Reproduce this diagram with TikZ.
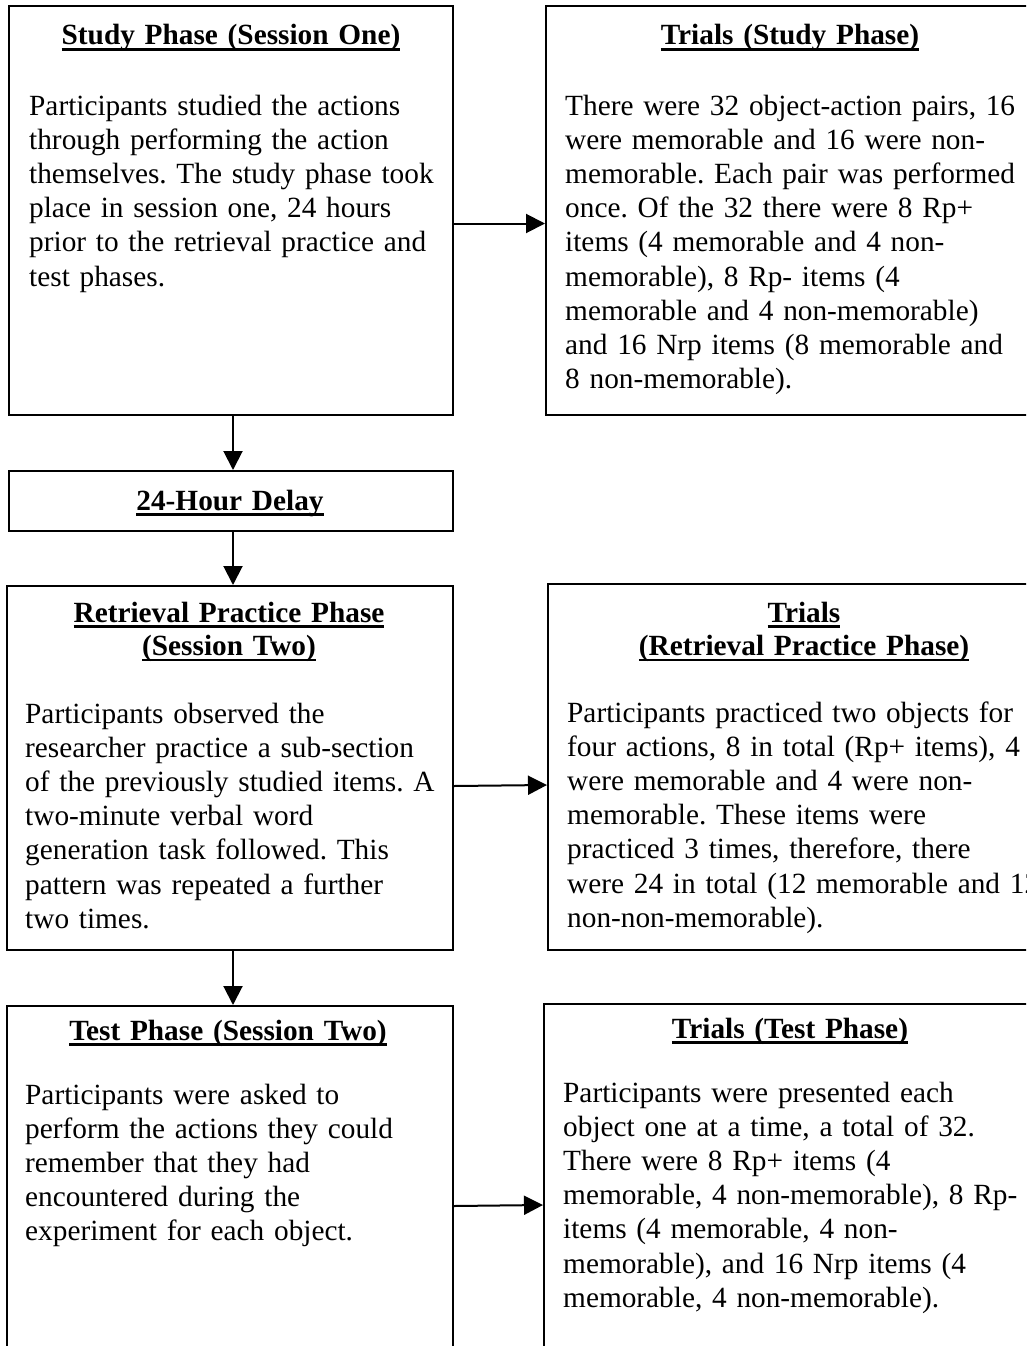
\documentclass[tikz,border=0pt]{standalone}
\usepackage{fontspec}
\setmainfont{Liberation Serif}
\usetikzlibrary{arrows.meta}
\frenchspacing
\newsavebox\headbox
\newcommand{\headul}[1]{\leavevmode\sbox\headbox{#1}\rlap{\rule[-5.7pt]{\wd\headbox}{2.4pt}}\usebox\headbox}
\tikzset{
  box/.style={draw, line width=2pt, anchor=north west, inner sep=0pt},
  head/.style={anchor=base, text width=460pt, align=center, inner sep=0pt,
    font=\fontsize{29.3}{33.5}\selectfont\bfseries},
  body/.style={anchor=base west, text width=520pt, align=left, inner sep=0pt,
    font=\fontsize{29.3}{34.2}\selectfont},
  flow/.style={line width=2pt, -{Triangle[length=19pt,width=19pt]}}
}
\begin{document}
\begin{tikzpicture}[x=1pt, y=-1pt]
  \useasboundingbox (0,0) rectangle (1026,1346);
  \clip (0,0) rectangle (1026,1346);

  \node[box, minimum width=444pt, minimum height=409pt] (study) at (8,5) {};
  \node[box, minimum width=500pt, minimum height=409pt] (studytrials) at (545,5) {};
  \node[box, minimum width=444pt, minimum height=60pt] (delay) at (8,470) {};
  \node[box, minimum width=446pt, minimum height=364pt] (retrieval) at (6,585) {};
  \node[box, minimum width=500pt, minimum height=366pt] (retrievaltrials) at (547,583) {};
  \node[box, minimum width=446pt, minimum height=360pt] (test) at (6,1005) {};
  \node[box, minimum width=500pt, minimum height=362pt] (testtrials) at (543,1003) {};

  \node[head] (studyhead) at (231,45) {\headul{Study Phase (Session One)}};
  \node[body] (studytext) at (29,115) {Participants studied the actions\\
    through performing the action\\
    themselves. The study phase took\\
    place in session one, 24 hours\\
    prior to the retrieval practice and\\
    test phases.};

  \node[head] (studytrialshead) at (790,45) {\headul{Trials (Study Phase)}};
  \node[body] (studytrialstext) at (565,115) {There were 32 object-action pairs, 16\\
    were memorable and 16 were non-\\
    memorable. Each pair was performed\\
    once. Of the 32 there were 8 Rp+\\
    items (4 memorable and 4 non-\\
    memorable), 8 Rp- items (4\\
    memorable and 4 non-memorable)\\
    and 16 Nrp items (8 memorable and\\
    8 non-memorable).};

  \node[head] (delayhead) at (230,510) {\headul{24-Hour Delay}};

  \node[head] (retrievalhead) at (229,622) {\headul{Retrieval Practice Phase}\\
    \headul{(Session Two)}};
  \node[body] (retrievaltext) at (25,723) {Participants observed the\\
    researcher practice a sub-section\\
    of the previously studied items. A\\
    two-minute verbal word\\
    generation task followed. This\\
    pattern was repeated a further\\
    two times.};

  \node[head] (retrievaltrialshead) at (804,622) {\headul{Trials}\\
    \headul{(Retrieval Practice Phase)}};
  \node[body] (retrievaltrialstext) at (567,722) {Participants practiced two objects for\\
    four actions, 8 in total (Rp+ items), 4\\
    were memorable and 4 were non-\\
    memorable. These items were\\
    practiced 3 times, therefore, there\\
    were 24 in total (12 memorable and 12\\
    non-non-memorable).};

  \node[head] (testhead) at (228,1040) {\headul{Test Phase (Session Two)}};
  \node[body] (testtext) at (25,1104) {Participants were asked to\\
    perform the actions they could\\
    remember that they had\\
    encountered during the\\
    experiment for each object.};

  \node[head] (testtrialshead) at (790,1038) {\headul{Trials (Test Phase)}};
  \node[body] (testtrialstext) at (563,1102) {Participants were presented each\\
    object one at a time, a total of 32.\\
    There were 8 Rp+ items (4\\
    memorable, 4 non-memorable), 8 Rp-\\
    items (4 memorable, 4 non-\\
    memorable), and 16 Nrp items (4\\
    memorable, 4 non-memorable).};

  \draw[flow] ([yshift=-13pt]study.east) -- ([yshift=-13pt]studytrials.west);
  \draw[flow] ([yshift=-18pt]retrieval.east) -- ([yshift=-18pt]retrievaltrials.west);
  \draw[flow] ([yshift=-20pt]test.east) -- ([yshift=-20pt]testtrials.west);
  \draw[flow] ([xshift=2pt]study.south) -- ([xshift=2pt]study.south |- delay.north);
  \draw[flow] ([xshift=2pt]delay.south) -- ([xshift=2pt]delay.south |- retrieval.north);
  \draw[flow] ([xshift=2pt]delay.south |- retrieval.south) -- ([xshift=2pt]delay.south |- test.north);
\end{tikzpicture}
\end{document}
